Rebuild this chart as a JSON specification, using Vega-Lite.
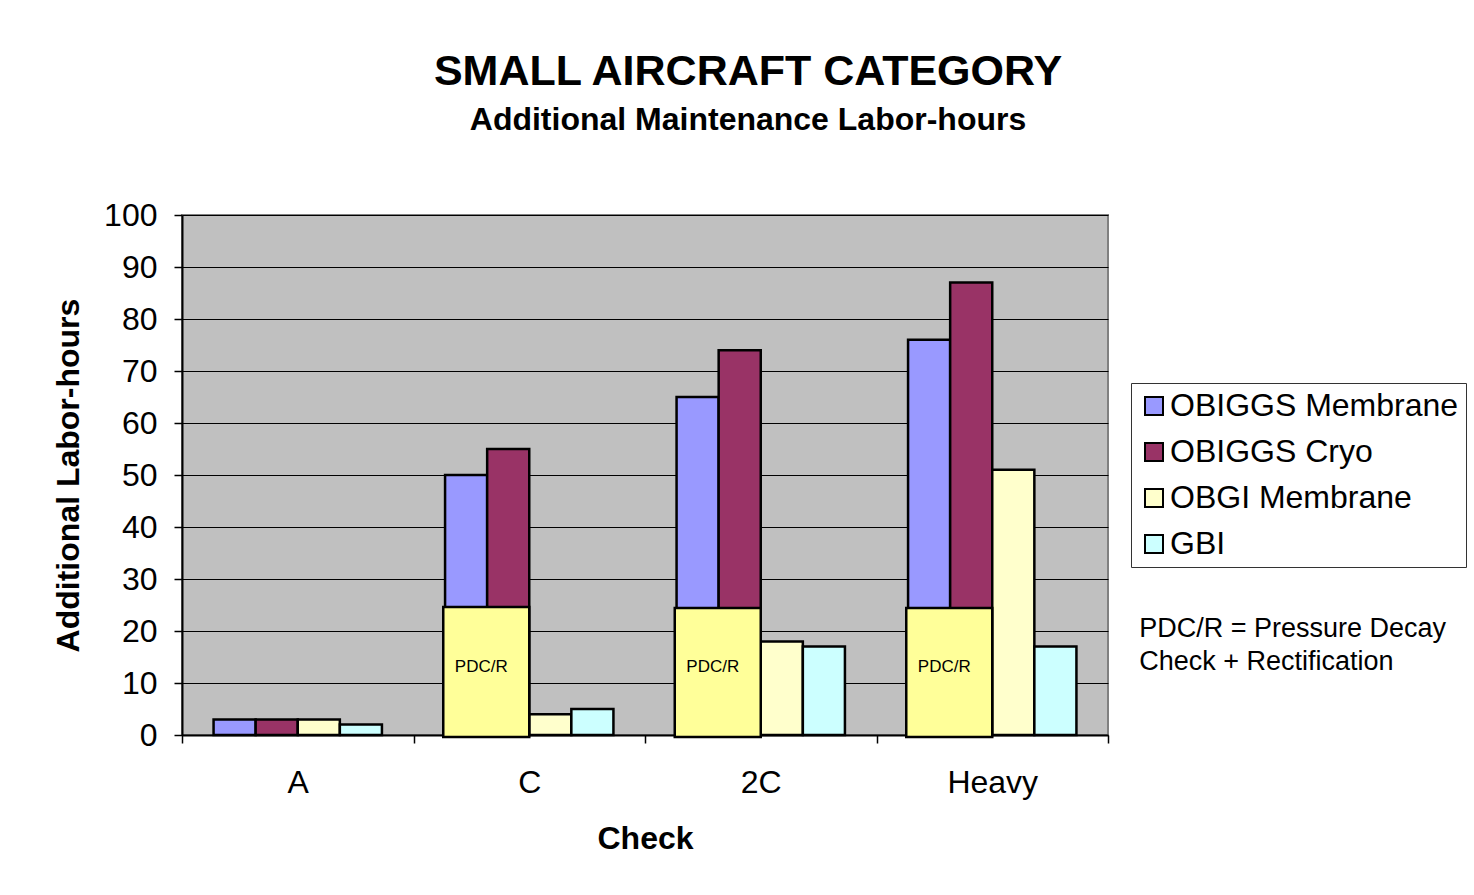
{
  "$schema": "https://vega.github.io/schema/vega-lite/v6.json",
  "width": 926,
  "height": 520,
  "autosize": "none",
  "padding": {"left": 182, "top": 215, "right": 366, "bottom": 160},
  "background": "white",
  "title": {
    "text": "SMALL AIRCRAFT CATEGORY",
    "subtitle": "Additional Maintenance Labor-hours",
    "anchor": "middle",
    "dx": 103,
    "offset": 63,
    "font": "Liberation Sans",
    "fontSize": 43,
    "fontWeight": "bold",
    "color": "black",
    "subtitleFont": "Liberation Sans",
    "subtitleFontSize": 32,
    "subtitleFontWeight": "bold",
    "subtitleColor": "black",
    "subtitlePadding": 11
  },
  "config": {
    "font": "Liberation Sans",
    "view": {"fill": "#c0c0c0", "stroke": "#808080", "strokeWidth": 2}
  },
  "datasets": {
    "bars": [
      {"check": "A", "system": "OBIGGS Membrane", "hours": 3},
      {"check": "A", "system": "OBIGGS Cryo", "hours": 3},
      {"check": "A", "system": "OBGI Membrane", "hours": 3},
      {"check": "A", "system": "GBI", "hours": 2},
      {"check": "C", "system": "OBIGGS Membrane", "hours": 50},
      {"check": "C", "system": "OBIGGS Cryo", "hours": 55},
      {"check": "C", "system": "OBGI Membrane", "hours": 4},
      {"check": "C", "system": "GBI", "hours": 5},
      {"check": "2C", "system": "OBIGGS Membrane", "hours": 65},
      {"check": "2C", "system": "OBIGGS Cryo", "hours": 74},
      {"check": "2C", "system": "OBGI Membrane", "hours": 18},
      {"check": "2C", "system": "GBI", "hours": 17},
      {"check": "Heavy", "system": "OBIGGS Membrane", "hours": 76},
      {"check": "Heavy", "system": "OBIGGS Cryo", "hours": 87},
      {"check": "Heavy", "system": "OBGI Membrane", "hours": 51},
      {"check": "Heavy", "system": "GBI", "hours": 17}
    ],
    "pdc": [
      {"check": "C", "part": "PDC/R", "hours": 24.6, "low": -0.4, "label": "PDC/R"},
      {"check": "2C", "part": "PDC/R", "hours": 24.4, "low": -0.4, "label": "PDC/R"},
      {"check": "Heavy", "part": "PDC/R", "hours": 24.4, "low": -0.4, "label": "PDC/R"}
    ],
    "note": [
      {"check": "Heavy", "hours": 18.85, "line1": "PDC/R = Pressure Decay", "line2": "Check + Rectification"}
    ]
  },
  "encoding": {
    "x": {
      "field": "check",
      "type": "nominal",
      "sort": ["A", "C", "2C", "Heavy"],
      "scale": {"domain": ["A", "C", "2C", "Heavy"], "paddingInner": 0, "paddingOuter": 0},
      "axis": {
        "title": "Check",
        "titleFont": "Liberation Sans",
        "titleFontSize": 32,
        "titleFontWeight": "bold",
        "titleColor": "black",
        "titlePadding": 25,
        "labelFont": "Liberation Sans",
        "labelFontSize": 32,
        "labelColor": "black",
        "labelAngle": 0,
        "labelPadding": 24,
        "tickBand": "extent",
        "tickSize": 8,
        "tickColor": "black",
        "tickWidth": 1.5,
        "domainColor": "black",
        "domainWidth": 2,
        "grid": false
      }
    },
    "y": {
      "field": "hours",
      "type": "quantitative",
      "scale": {"domain": [0, 100], "nice": false, "zero": true},
      "axis": {
        "title": "Additional Labor-hours",
        "titleFont": "Liberation Sans",
        "titleFontSize": 32,
        "titleFontWeight": "bold",
        "titleColor": "black",
        "titlePadding": 18,
        "values": [0, 10, 20, 30, 40, 50, 60, 70, 80, 90, 100],
        "labelFont": "Liberation Sans",
        "labelFontSize": 32,
        "labelColor": "black",
        "labelPadding": 17,
        "tickSize": 8,
        "tickColor": "black",
        "tickWidth": 1.5,
        "domainColor": "black",
        "domainWidth": 2,
        "grid": true,
        "gridColor": "black",
        "gridWidth": 1,
        "gridOpacity": 1
      }
    }
  },
  "layer": [
    {
      "data": {"name": "bars"},
      "mark": {"type": "bar", "stroke": "black", "strokeWidth": 2.5},
      "encoding": {
        "xOffset": {
          "field": "system",
          "type": "nominal",
          "sort": ["OBIGGS Membrane", "OBIGGS Cryo", "OBGI Membrane", "GBI"],
          "scale": {"domain": ["OBIGGS Membrane", "OBIGGS Cryo", "OBGI Membrane", "GBI"], "paddingInner": 0, "paddingOuter": 0.75}
        },
        "color": {
          "field": "system",
          "type": "nominal",
          "sort": ["OBIGGS Membrane", "OBIGGS Cryo", "OBGI Membrane", "GBI"],
          "scale": {
            "domain": ["OBIGGS Membrane", "OBIGGS Cryo", "OBGI Membrane", "GBI"],
            "range": ["#9999ff", "#993366", "#ffffcc", "#ccffff"]
          },
          "legend": {
            "title": null,
            "orient": "none",
            "legendX": 949,
            "legendY": 168,
            "labelFont": "Liberation Sans",
            "labelFontSize": 32,
            "labelColor": "black",
            "labelOffset": 0,
            "labelLimit": 500,
            "symbolType": "square",
            "symbolSize": 324,
            "symbolStrokeColor": "black",
            "symbolStrokeWidth": 2,
            "symbolOpacity": 1,
            "rowPadding": 14,
            "padding": 7,
            "strokeColor": "#333333",
            "fillColor": "white"
          }
        }
      }
    },
    {
      "data": {"name": "pdc"},
      "mark": {"type": "bar", "fill": "#ffff99", "stroke": "black", "strokeWidth": 2.5, "clip": false},
      "encoding": {
        "xOffset": {
          "field": "part",
          "type": "nominal",
          "scale": {"domain": ["PDC/R", "other"], "paddingInner": 0, "paddingOuter": 0.346}
        },
        "y2": {"field": "low"}
      }
    },
    {
      "data": {"name": "pdc"},
      "mark": {"type": "text", "font": "Liberation Sans", "fontSize": 17, "color": "black", "align": "left", "baseline": "middle", "dx": -6},
      "encoding": {
        "xOffset": {
          "field": "part",
          "type": "nominal",
          "scale": {"domain": ["PDC/R", "other"], "paddingInner": 0, "paddingOuter": 0.346}
        },
        "y": {"datum": 13},
        "text": {"field": "label"}
      }
    },
    {
      "data": {"name": "note"},
      "mark": {"type": "text", "font": "Liberation Sans", "fontSize": 27, "color": "black", "align": "left", "baseline": "alphabetic", "clip": false, "dx": 147, "lineHeight": 33},
      "encoding": {
        "text": {"value": ["PDC/R = Pressure Decay", "Check + Rectification"]}
      }
    }
  ],
  "resolve": {"scale": {"xOffset": "independent"}}
}
